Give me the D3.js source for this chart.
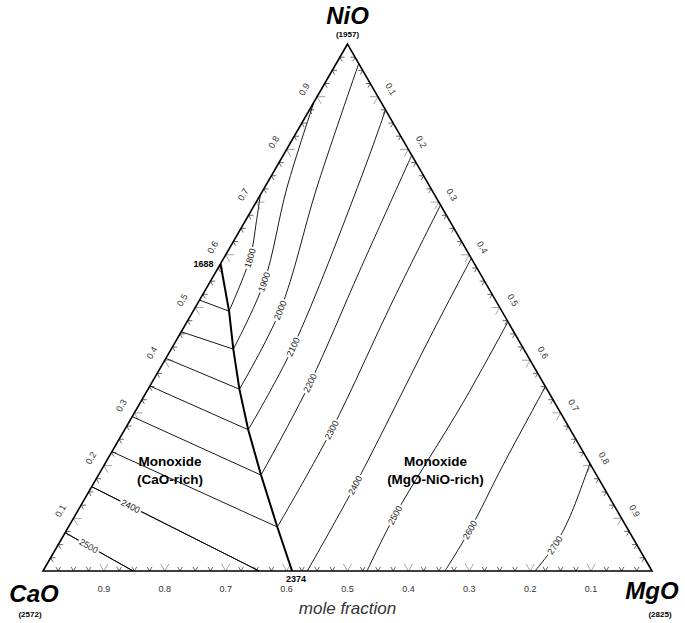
<!DOCTYPE html>
<html>
<head>
<meta charset="utf-8">
<script src="https://cdn.jsdelivr.net/npm/d3@7/dist/d3.min.js"></script>
<style>
  body { margin: 0; background: #fff; }
  svg { display: block; font-family: Arial, "Liberation Sans", sans-serif; }
</style>
</head>
<body>
<div id="chart"></div>
<script>
// compositions are [MgO, NiO] mole fractions, CaO = 1 - MgO - NiO
const tickLabels = ['0.1', '0.2', '0.3', '0.4', '0.5', '0.6', '0.7', '0.8', '0.9'];

const corners = [
    { name: 'NiO', tm: '(1957)', p: [0, 1] },
    { name: 'CaO', tm: '(2572)', p: [0, 0] },
    { name: 'MgO', tm: '(2825)', p: [1, 0] }
];

// two-phase boundary between the monoxide fields, 1688 (CaO-NiO) to 2374 (CaO-MgO)
const boundary = [[0, 0.583], [0.059, 0.493], [0.102, 0.421], [0.150, 0.345],
    [0.203, 0.268], [0.267, 0.182], [0.343, 0.0835], [0.409, 0]];
const boundaryEnds = [{ t: 1688, p: [0, 0.583] }, { t: 2374, p: [0.409, 0] }];

// liquidus isotherms in the CaO-rich field
const cao1800 = [[0, 0.514], [0.059, 0.493]];
const cao1900 = [[0, 0.454], [0.102, 0.421]];
const cao2000 = [[0, 0.4035], [0.150, 0.345]];
const cao2100 = [[0, 0.351], [0.203, 0.268]];
const cao2200 = [[0, 0.293], [0.267, 0.182]];
const cao2300 = [[0, 0.2264], [0.343, 0.0835]];
const cao2400 = [[0, 0.16], [0.355, 0]];
const cao2500 = [[0, 0.0727], [0.148, 0]];

// liquidus isotherms in the MgO-NiO-rich field
const mgo1800 = [[0, 0.7135], [0.02, 0.66], [0.043, 0.594], [0.059, 0.493]];
const mgo1900 = [[0, 0.89], [0.037, 0.727], [0.089, 0.548], [0.102, 0.421]];
const mgo2000 = [[0.037, 0.963], [0.086, 0.727], [0.142, 0.495], [0.150, 0.345]];
const mgo2100 = [[0.125, 0.875], [0.15, 0.742], [0.198, 0.425], [0.203, 0.268]];
const mgo2200 = [[0.211, 0.789], [0.235, 0.571], [0.26, 0.357], [0.267, 0.182]];
const mgo2300 = [[0.3055, 0.6945], [0.318, 0.514], [0.34, 0.268], [0.343, 0.0835]];
const mgo2400 = [[0.4066, 0.5934], [0.413, 0.457], [0.431, 0.163], [0.434, 0]];
const mgo2500 = [[0.527, 0.473], [0.53, 0.32], [0.525, 0.106], [0.532, 0]];
const mgo2600 = [[0.65, 0.35], [0.655, 0.2], [0.662, 0.078], [0.66, 0]];
const mgo2700 = [[0.796, 0.204], [0.814, 0.1], [0.816, 0.049], [0.808, 0]];

const caoLines = [cao1800, cao1900, cao2000, cao2100, cao2200, cao2300, cao2400, cao2500];
const mgoLines = [mgo1800, mgo1900, mgo2000, mgo2100, mgo2200, mgo2300, mgo2400, mgo2500, mgo2600, mgo2700];
const mgoTemps = [1800, 1900, 2000, 2100, 2200, 2300, 2400, 2500, 2600, 2700];
// where the temperature labels sit
const mgoLabelAt = [[0.043, 0.594], [0.089, 0.548], [0.142, 0.495], [0.198, 0.425], [0.26, 0.357],
    [0.34, 0.268], [0.431, 0.163], [0.525, 0.106], [0.662, 0.078], [0.816, 0.049]];
const caoLabeled = [{ line: cao2400, t: 2400, at: [0.083, 0.11] }, { line: cao2500, t: 2500, at: [0.051, 0.037] }];

const regions = [
    { lines: ['Monoxide', '(CaO-rich)'], at: [0.1085, 0.2] },
    { lines: ['Monoxide', '(MgO-NiO-rich)'], at: [0.5445, 0.2] }
];

const width = 685, height = 623;
const x = d3.scaleLinear().domain([0, 1]).range([43, 652]);
const y = d3.scaleLinear().domain([0, 1]).range([571, 44]);
const proj = p => [x(p[0] + p[1] / 2), y(p[1])];

const svg = d3.select('#chart').append('svg')
    .attr('width', width)
    .attr('height', height);

// ticks along the three edges
const tickVals = d3.range(1, 40).map(i => i / 40);
const edges = [
    // bottom: CaO fraction labels, point [1-c, 0]
    { pt: v => [1 - v, 0], arms: [[0, 1], [-1, 1]] },
    // left: NiO fraction
    { pt: v => [0, v], arms: [[1, 0], [1, -1]] },
    // right: MgO fraction
    { pt: v => [v, 1 - v], arms: [[-1, 0], [0, -1]] }
];
const tickG = svg.append('g').attr('class', 'ticks');
edges.forEach(e => {
    tickVals.forEach((v, i) => {
        const major = (i + 1) % 4 === 0;
        const L = major ? 0.0135 : 0.0078;
        const p = e.pt(v);
        e.arms.forEach(a => {
            const q = [p[0] + a[0] * L, p[1] + a[1] * L];
            const s = proj(p), t = proj(q);
            tickG.append('line')
                .attr('x1', s[0]).attr('y1', s[1])
                .attr('x2', t[0]).attr('y2', t[1])
                .style('stroke', major ? '#9a9a9a' : '#555')
                .style('stroke-width', 0.9);
        });
    });
});

// tick labels
const labG = svg.append('g').attr('class', 'tick-labels')
    .style('font-size', '9px').style('fill', '#333');
tickLabels.forEach(lbl => {
    const v = +lbl;
    let s = proj([1 - v, 0]);
    labG.append('text').attr('x', s[0]).attr('y', s[1] + 21)
        .attr('text-anchor', 'middle').text(lbl);
    s = proj([0, v]);
    labG.append('text')
        .attr('transform', `translate(${s[0] - 13},${s[1] - 7.5}) rotate(-60)`)
        .attr('text-anchor', 'middle').attr('dy', '0.35em').text(lbl);
    s = proj([v, 1 - v]);
    labG.append('text')
        .attr('transform', `translate(${s[0] + 13},${s[1] - 7.5}) rotate(60)`)
        .attr('text-anchor', 'middle').attr('dy', '0.35em').text(lbl);
});

const line = d3.line().x(d => proj(d)[0]).y(d => proj(d)[1]);
const smooth = d3.line().x(d => proj(d)[0]).y(d => proj(d)[1]).curve(d3.curveCatmullRom.alpha(0.5));

const isoG = svg.append('g').attr('class', 'isotherms')
    .style('fill', 'none').style('stroke', '#000').style('stroke-width', 0.9);
caoLines.forEach(l => isoG.append('path').attr('d', line(l)));
const mgoPaths = mgoLines.map(l => isoG.append('path').attr('d', smooth(l)));
const caoPaths = caoLabeled.map(c => isoG.append('path').attr('d', line(c.line)));

// boundary
svg.append('path')
    .attr('d', line(boundary))
    .style('fill', 'none').style('stroke', '#000').style('stroke-width', 2);

// triangle
svg.append('path')
    .attr('d', line(corners.map(c => c.p)) + 'Z')
    .style('fill', 'none').style('stroke', '#000').style('stroke-width', 1.6)
    .style('stroke-linejoin', 'miter');

// isotherm labels along the curves
function placeLabel(pathSel, target, text) {
    const node = pathSel.node();
    const len = node.getTotalLength();
    const tp = proj(target);
    let best = 0, bestD = Infinity;
    for (let l = 0; l <= len; l += 0.5) {
        const p = node.getPointAtLength(l);
        const d = (p.x - tp[0]) ** 2 + (p.y - tp[1]) ** 2;
        if (d < bestD) { bestD = d; best = l; }
    }
    const a = node.getPointAtLength(Math.max(0, best - 4));
    const b = node.getPointAtLength(Math.min(len, best + 4));
    const c = node.getPointAtLength(best);
    let ang = Math.atan2(b.y - a.y, b.x - a.x) * 180 / Math.PI;
    if (ang > 90) ang -= 180;
    if (ang < -90) ang += 180;
    svg.append('text')
        .attr('transform', `translate(${c.x},${c.y}) rotate(${ang})`)
        .attr('text-anchor', 'middle')
        .attr('dy', '0.35em')
        .style('font-size', '9px')
        .style('fill', '#222')
        .style('stroke', '#fff')
        .style('stroke-width', 4)
        .style('paint-order', 'stroke')
        .text(text);
}
mgoPaths.forEach((p, i) => placeLabel(p, mgoLabelAt[i], mgoTemps[i]));
caoPaths.forEach((p, i) => placeLabel(p, caoLabeled[i].at, caoLabeled[i].t));

// boundary end temperatures
let s = proj(boundaryEnds[0].p);
svg.append('text').attr('x', s[0] - 7).attr('y', s[1] + 3)
    .attr('text-anchor', 'end').style('font-size', '9px').style('font-weight', 'bold')
    .text(boundaryEnds[0].t);
s = proj(boundaryEnds[1].p);
svg.append('text').attr('x', s[0] + 4).attr('y', s[1] + 11)
    .attr('text-anchor', 'middle').style('font-size', '9px').style('font-weight', 'bold')
    .text(boundaryEnds[1].t);

// region labels
regions.forEach(r => {
    const p = proj(r.at);
    const t = svg.append('text').attr('text-anchor', 'middle')
        .style('font-size', '13.5px').style('font-weight', 'bold');
    r.lines.forEach((ln, i) => t.append('tspan')
        .attr('x', p[0]).attr('y', p[1] + i * 18.5).text(ln));
});

// corner component names with melting points
const cornerPos = {
    NiO: { dx: 0, dy: -20, tx: 0, tdy: -7 },
    CaO: { dx: -9, dy: 31, tx: -13, tdy: 46 },
    MgO: { dx: 0, dy: 28, tx: 8, tdy: 46 }
};
corners.forEach(c => {
    const p = proj(c.p), o = cornerPos[c.name];
    svg.append('text').attr('x', p[0] + o.dx).attr('y', p[1] + o.dy)
        .attr('text-anchor', 'middle')
        .style('font-size', '24px').style('font-weight', 'bold').style('font-style', 'italic')
        .text(c.name);
    svg.append('text').attr('x', p[0] + o.tx).attr('y', p[1] + o.tdy)
        .attr('text-anchor', 'middle')
        .style('font-size', '8px').style('font-weight', 'bold')
        .text(c.tm);
});

svg.append('text')
    .attr('x', x(0.5)).attr('y', 614)
    .attr('text-anchor', 'middle')
    .style('font-size', '17px').style('font-style', 'italic').style('fill', '#333')
    .text('mole fraction');
</script>
</body>
</html>
